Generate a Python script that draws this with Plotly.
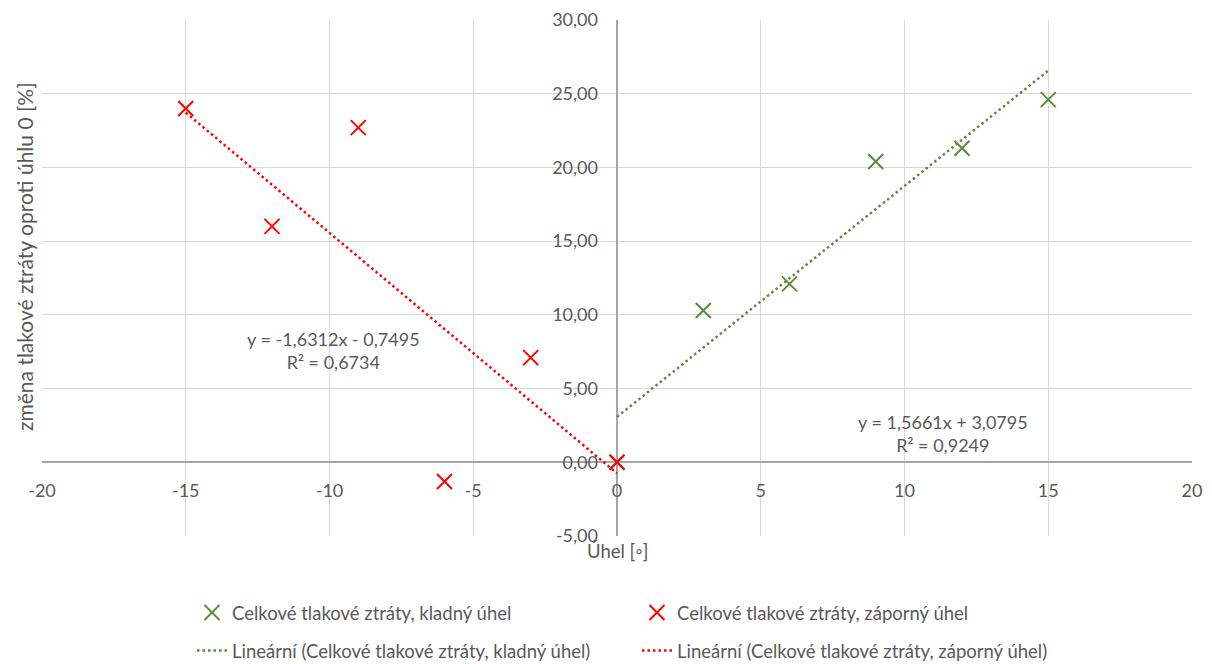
import plotly.graph_objects as go

# Data
x_pos = [0, 3, 6, 9, 12, 15]
y_pos = [0.0, 10.3, 12.1, 20.4, 21.3, 24.6]
x_neg = [0, -3, -6, -9, -12, -15]
y_neg = [0.0, 7.1, -1.3, 22.7, 16.0, 24.0]

slope_pos, icpt_pos, r2_pos = 1.5661, 3.0795, 0.9249
slope_neg, icpt_neg, r2_neg = -1.6312, -0.7495, 0.6734

x_ticks = [-20, -15, -10, -5, 0, 5, 10, 15, 20]
x_tick_labels = ["-20", "-15", "-10", "-5", "0", "5", "10", "15", "20"]
y_ticks = [-5, 0, 5, 10, 15, 20, 25, 30]
y_tick_labels = ["-5,00", "0,00", "5,00", "10,00", "15,00", "20,00", "25,00", "30,00"]

names = [
    "Celkové tlakové ztráty, kladný úhel",
    "Celkové tlakové ztráty, záporný úhel",
    "Lineární (Celkové tlakové ztráty, kladný úhel)",
    "Lineární (Celkové tlakové ztráty, záporný úhel)",
]

GREEN = "#5B8C3A"
RED = "#FF0000"
TXT = "#595959"
FONT = "Lato"
FS = 18

fit_x_pos = [min(x_pos), max(x_pos)]
fit_y_pos = [slope_pos * v + icpt_pos for v in fit_x_pos]
fit_x_neg = [min(x_neg), max(x_neg)]
fit_y_neg = [slope_neg * v + icpt_neg for v in fit_x_neg]

fig = go.Figure()
fig.add_trace(go.Scatter(x=fit_x_pos, y=fit_y_pos, mode="lines", name=names[2], showlegend=True,
                         line=dict(color=GREEN, width=2.5, dash="2.5px,3px"), legend="legend3"))
fig.add_trace(go.Scatter(x=fit_x_neg, y=fit_y_neg, mode="lines", name=names[3], showlegend=True,
                         line=dict(color=RED, width=2.5, dash="2.5px,3px"), legend="legend4"))
fig.add_trace(go.Scatter(x=x_pos, y=y_pos, mode="markers", name=names[0], showlegend=True,
                         marker=dict(symbol="x-thin-open", size=15, color=GREEN,
                                     line=dict(color=GREEN, width=2)), legend="legend"))
fig.add_trace(go.Scatter(x=x_neg, y=y_neg, mode="markers", name=names[1], showlegend=True,
                         marker=dict(symbol="x-thin-open", size=15, color=RED,
                                     line=dict(color=RED, width=2)), legend="legend2"))

# page pixel -> paper coords (plot area spans 42..1192 x, 20..536 y on the page)
def px2paper(px, py):
    return (px - 42) / 1150, (536 - py) / 516

lf = dict(family=FONT, size=18.5, color=TXT)
ef = dict(family=FONT, size=18, color=TXT)
tf = dict(family=FONT, size=FS, color=TXT)
leg_common = dict(font=lf, bgcolor="rgba(0,0,0,0)", xanchor="left", yanchor="middle",
                  orientation="h")
lx1, ly1 = px2paper(192, 613)
lx2, ly2 = px2paper(637, 651)

# page body has an 8px margin, so the figure is drawn 8px right/down
fig.update_layout(
    width=1204, height=656,
    margin=dict(l=34, r=20, t=12, b=128, autoexpand=False),
    showlegend=True,
    paper_bgcolor="white", plot_bgcolor="white",
    font=dict(family=FONT, size=FS, color=TXT),
    legend=dict(x=lx1, y=ly1, **leg_common),
    legend2=dict(x=lx2, y=ly1, **leg_common),
    legend3=dict(x=lx1, y=ly2, **leg_common),
    legend4=dict(x=lx2, y=ly2, **leg_common),
    xaxis=dict(range=[-20, 20], tickvals=x_ticks, ticktext=x_tick_labels,
               showgrid=True, gridcolor="#D9D9D9", gridwidth=1,
               zeroline=True, zerolinecolor="#A6A6A6", zerolinewidth=1.5,
               showline=False, anchor="free", position=5 / 35, automargin=False,
               ticks="", ticklabelstandoff=16, tickfont=tf),
    yaxis=dict(range=[-5, 30], tickvals=y_ticks, ticktext=y_tick_labels,
               showgrid=True, gridcolor="#D9D9D9", gridwidth=1,
               zeroline=True, zerolinecolor="#A6A6A6", zerolinewidth=1.5,
               showline=False, anchor="free", position=0.5, automargin=False,
               ticks="", ticklabelstandoff=19, tickfont=tf),
)

ax_t_x, ax_t_y = px2paper(617, 551)
ay_t_x, ay_t_y = px2paper(24, 257)
fig.add_annotation(x=ax_t_x, y=ax_t_y, xref="paper", yref="paper", text="Úhel [◦]",
                   showarrow=False, font=lf, xanchor="center", yanchor="middle")
fig.add_annotation(x=ay_t_x, y=ay_t_y, xref="paper", yref="paper",
                   text="změna tlakové ztráty oproti úhlu 0 [%]", textangle=-90,
                   showarrow=False, font=dict(family=FONT, size=21, color=TXT),
                   xanchor="center", yanchor="middle")

def fmt(v):
    return f"{abs(v):.4f}".replace(".", ",")

eq_neg = f"y = -{fmt(slope_neg)}x - {fmt(icpt_neg)}<br>R² = {fmt(r2_neg)}"
eq_pos = f"y = {fmt(slope_pos)}x + {fmt(icpt_pos)}<br>R² = {fmt(r2_pos)}"
ex1, ey1 = px2paper(333, 350)
ex2, ey2 = px2paper(943, 433)
fig.add_annotation(x=ex1, y=ey1, xref="paper", yref="paper", text=eq_neg, showarrow=False,
                   font=ef, align="center", xanchor="center", yanchor="middle")
fig.add_annotation(x=ex2, y=ey2, xref="paper", yref="paper", text=eq_pos, showarrow=False,
                   font=ef, align="center", xanchor="center", yanchor="middle")

fig.write_html("out.html")
